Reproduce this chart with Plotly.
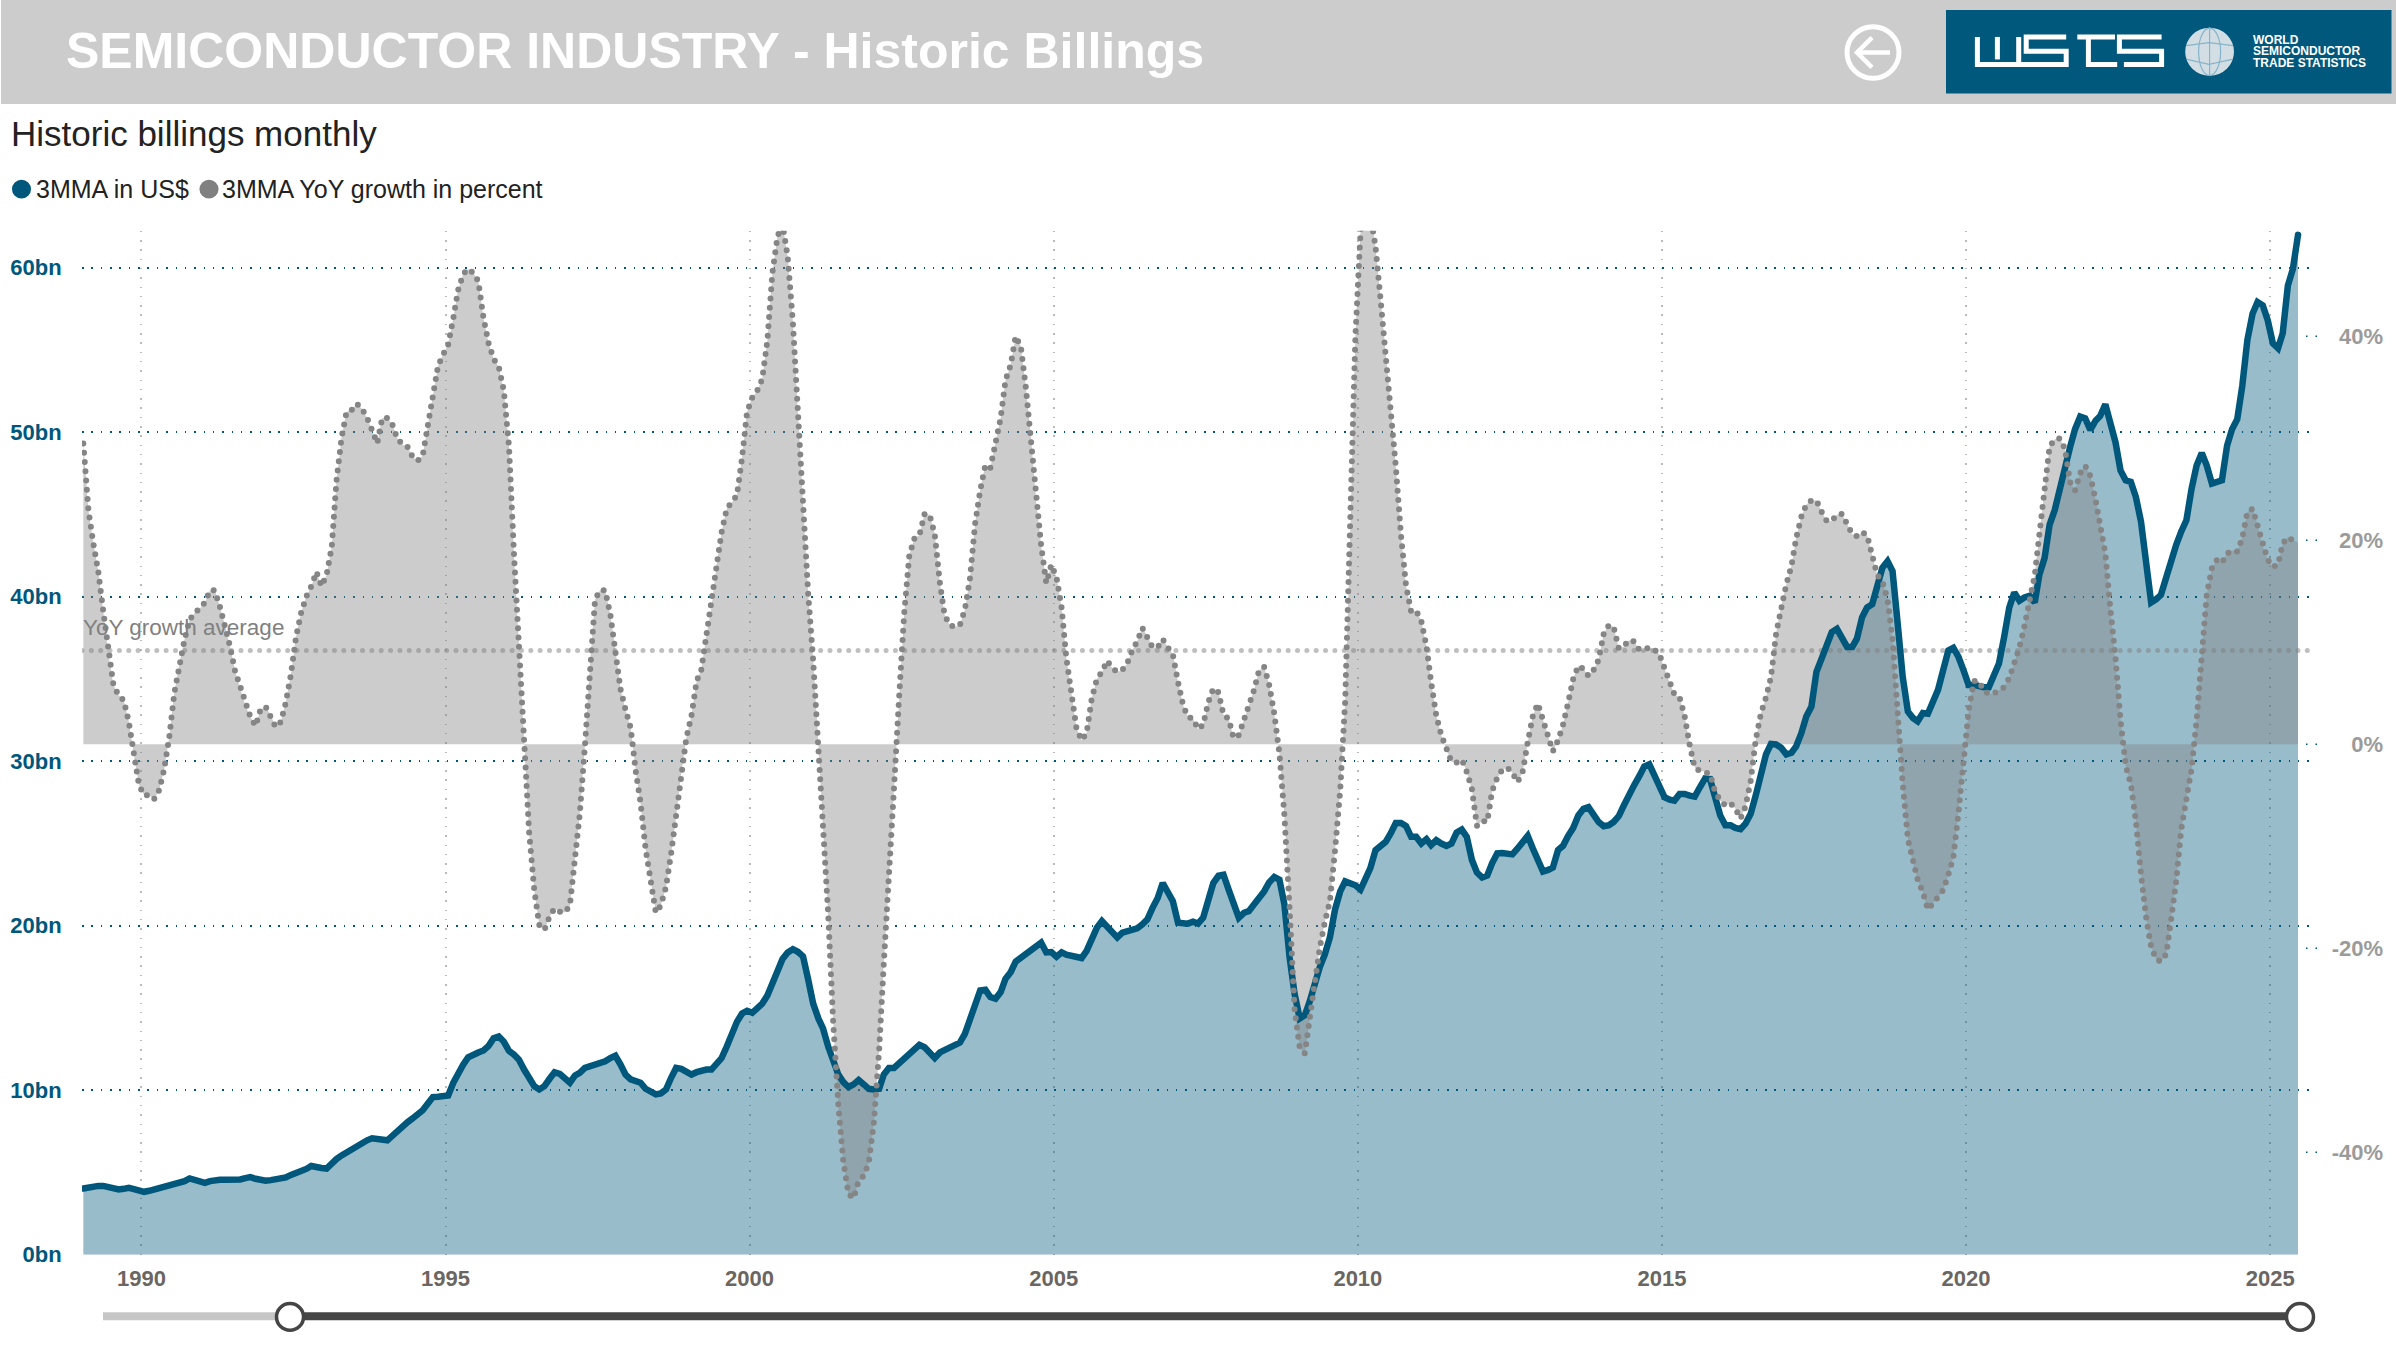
import plotly.graph_objects as go

W, H = 2396, 1350
PLOT_L, PLOT_R, PLOT_T, PLOT_B = 82, 2315, 233, 1267

start_year, start_month = 1989, 1

billings_bn = [
    4.03,4.09,4.19,4.19,4.19,4.11,4.01,3.97,4.01,4.07,3.99,3.89,
    3.83,3.89,3.97,4.05,4.13,4.21,4.25,4.33,4.48,4.64,4.54,4.44,
    4.37,4.48,4.56,4.56,4.56,4.54,4.52,4.58,4.66,4.72,4.62,4.56,
    4.5,4.54,4.6,4.62,4.7,4.86,4.96,5.08,5.22,5.4,5.38,5.28,
    5.24,5.6,5.82,6.04,6.24,6.42,6.6,6.8,6.96,7.08,7.06,6.96,
    6.96,7.24,7.53,7.81,8.05,8.29,8.49,8.79,9.19,9.59,9.61,9.61,
    9.69,10.46,11.06,11.56,12,12.2,12.3,12.42,12.7,13.16,13.27,12.96,
    12.4,12.16,11.86,11.26,10.66,10.25,10.05,10.25,10.7,11.1,11,10.7,
    10.46,10.9,11.06,11.36,11.46,11.5,11.62,11.76,11.96,12.1,11.56,10.96,
    10.66,10.52,10.46,10.09,9.89,9.75,9.81,10.05,10.76,11.36,11.3,11.12,
    10.96,11.1,11.2,11.26,11.26,11.56,11.96,12.66,13.46,14.16,14.67,14.83,
    14.71,14.97,15.27,15.77,16.58,17.18,17.98,18.38,18.58,18.42,18.14,16.78,
    15.27,14.37,13.77,12.66,11.66,10.96,10.5,10.2,10.36,10.62,10.36,10.09,
    10.05,10.09,10.96,11.36,11.36,11.66,11.96,12.26,12.5,12.76,12.62,12.32,
    11.96,12.3,12.42,12.62,12.7,12.9,13.43,14.31,15.27,16.07,16.11,15.67,
    15.57,15.97,16.78,17.18,17.82,18.08,18.28,18.52,18.78,18.98,18.38,18.4,
    18.12,18.38,18.24,18.16,18.04,18.04,18.48,19.29,19.89,20.29,19.99,19.65,
    19.29,19.59,19.65,19.79,19.85,20.09,20.39,21.09,21.69,22.6,22.09,21.49,
    20.19,20.19,20.13,20.25,20.13,20.49,21.49,22.6,23.04,23.1,22.2,21.29,
    20.49,20.79,20.89,21.29,21.63,22.09,22.64,22.96,22.8,21.29,18.08,15.87,
    14.37,14.57,15.37,16.58,17.48,18.28,19.29,20.99,22.09,22.7,22.6,22.46,
    22.2,22.9,23.5,24.6,24.8,25.1,25.61,26.25,26.25,26.07,25.41,25.41,
    25,25.27,24.9,25.2,25,24.86,25,25.67,25.85,25.41,24,23.24,
    22.94,23.06,23.8,24.4,24.42,24.34,24.34,24.7,25.07,25.47,24.7,23.9,
    23.3,23.4,23.54,24.6,24.86,25.47,25.95,26.71,27.11,27.21,26.71,26.31,
    26.05,26.11,26.31,26.67,27.31,28.01,28.52,29.08,29.68,29.82,29.12,28.52,
    27.81,27.67,27.61,28.01,28.01,27.91,27.85,28.42,28.96,28.92,27.61,26.71,
    26.11,26.11,25.95,25.87,26.21,26.81,27.91,29.22,30.42,31.05,31.02,30.82,
    30.42,30.52,30.9,31.7,32.73,33.33,35.44,36.24,37.15,37.85,38.05,37.55,
    36.95,36.95,37.45,38.75,39.35,39.55,40.76,41.76,42.16,41.56,38.35,35.14,
    33.03,32.63,32.43,32.93,32.89,33.53,34.34,35.54,36.74,36.9,36.34,35.54,
    34.64,34.64,34.54,34.5,34.5,35.24,35.94,37.55,39.35,40.26,39.76,39.96,
    40.06,39.66,41.36,42.36,44.37,45.27,46.58,47.98,49.09,50.19,50.95,50.85,
    50.15,50.7,50.99,51.7,50.59,49.39,47.68,47.08,46.98,46.08,44.57,41.96,
    39.66,39.86,40.12,41.16,42.26,43.17,43.97,44.67,46.58,47.98,48.74,47.98,
    46.88,46.98,47.08,49.19,50.19,50.79,52.8,55.61,57.21,57.92,57.72,56.81,
    55.41,55.11,56.01,58.92,59.92,62.0,
]

growth_pct = [
    29.5,22.9,19.8,16.9,13,8.7,5.8,4.8,4.3,2.2,-1,-4,
    -5,-5,-5.4,-4.5,-2.5,.7,5,7.9,10.3,12.2,12.9,13.3,
    13.9,15.1,15.1,13.5,11.7,9.6,7.2,5.6,3.8,2.7,1.8,3.4,
    3.7,2.8,1.7,2.2,4.1,6.9,10.5,12.9,14.5,15.5,16.9,15.5,
    16.6,19.4,25.8,30.1,32.6,32.8,33.4,32.9,32,30.8,29.5,32,
    32,31.3,30,29.4,29.2,28.2,27.8,28.3,31.2,33.9,37.1,38.2,
    39.2,41.8,44.5,46.1,46.6,46.2,45.4,41.8,39.3,37.8,37,34.7,
    29.3,18.4,9.8,.3,-8.6,-14.3,-17.7,-18.2,-16.9,-16.1,-16.4,-16.5,
    -15.8,-11.1,-6.9,-.2,7.7,14.2,15.1,15.1,12.7,9.3,5.4,3.4,
    1.6,-2.7,-5.7,-10.3,-13.4,-16.5,-15.8,-14,-10.7,-7.1,-2.8,.6,
    2.8,6.2,7.3,10.7,13.4,17.6,20.8,23.1,23.7,24.4,28.1,32.6,
    34,34.7,35.8,39.6,46.2,49.8,51,47.8,41.4,32.3,24,15,
    8.2,.2,-8.2,-16.6,-27.2,-35.4,-40.9,-44.1,-44.5,-42.8,-42.3,-41,
    -37,-30,-21.5,-13.5,-4.4,4.6,12.7,18.5,20.2,20.5,22.6,22.5,
    20.6,15.8,12.7,11.7,11.5,11.7,13.2,16.3,21.7,24.9,27.4,27.1,
    29.7,32,35.7,37.2,40.0,39.0,35,30.1,23.8,19.5,15.8,17.6,
    16.4,13.4,8.5,4.8,1.6,.4,1.1,4.5,6.4,7.1,8.2,7.5,
    7.1,7.3,7.9,9.2,10.1,11.4,10.6,9.5,9.5,10.3,9.5,8.8,
    6.1,3.8,2.7,2.5,1.5,1.9,4.1,5.5,5.1,2.9,2.5,.6,
    .9,2.4,3.7,5.3,7.2,7.6,5.9,3,-.9,-7,-16.1,-26,
    -29.8,-30.3,-27,-23.2,-20,-17.4,-15.4,-10.4,-4.5,4.3,21,39.9,
    50.2,54,52,48.8,43.7,38.1,33.4,27.2,20.5,15.6,13,13.1,
    12.1,9.6,6.1,2.8,.9,-.5,-1.7,-1.8,-1.5,-2.7,-4.4,-8,
    -7.5,-7.6,-4.6,-3.3,-2.5,-2.3,-2.8,-3.7,-2.7,.2,2.8,4,
    2.4,.9,-.7,.4,1.9,4.1,6.4,7.7,7.4,6.7,7.3,8.3,
    10.9,11.7,11.5,9.4,9.6,10.2,10.1,9.3,9.3,9.5,9.3,8.8,
    7.3,6,4.9,4.6,2.8,-.1,-2.3,-2.6,-2.7,-2.9,-4.7,-5.5,
    -6,-5.8,-6.3,-7.3,-6.1,-3.6,.4,3,4.6,6.6,10.9,13.5,
    15.7,17.5,20.2,22.3,23.5,23.9,23.9,22.8,21.9,21.9,22.5,22.6,
    21.6,20.6,20.4,20.8,20.5,18.4,16.6,16,14.2,10.3,2.8,-3.9,
    -9.3,-11.7,-13.3,-14.5,-16.2,-15.6,-15,-14.3,-12.8,-11.1,-6.7,-2,
    3.3,6.2,6.2,5.3,4.9,5,5.3,5.6,6.5,8,9.5,11.6,
    14.3,16.6,20.6,25.1,29.2,29.9,30,29,25.7,24.9,26.6,27.3,
    26.3,24,21.8,18.7,13.3,8.5,2.4,-2.1,-3.9,-7.5,-12.7,-16.9,
    -19.9,-21.1,-21.3,-20.6,-17.2,-13.3,-8.3,-5.2,-2.4,2.4,9.3,14.7,
    17.3,18.1,17.8,18.7,19,18.9,20.2,22.8,23.1,21.5,19.4,18.1,
    17.4,17.6,19.7,20.3,20,19.8,
]

growth_average = [9.2, 9.2]
x_range = ["1989-01-09", "2025-09-27"]
y_bn_range = [0, 62.25]
y_pct_range = [-50.05, 50.35]
bn_ticks = [0, 10, 20, 30, 40, 50, 60]
bn_labels = ["0bn", "10bn", "20bn", "30bn", "40bn", "50bn", "60bn"]
pct_ticks = [-40, -20, 0, 20, 40]
pct_labels = ["-40%", "-20%", "0%", "20%", "40%"]

BLUE = "#00577C"
GREY = "#808080"
months = [f"{start_year + (start_month - 1 + i) // 12}-{(start_month - 1 + i) % 12 + 1:02d}-17"
          for i in range(max(len(billings_bn), len(growth_pct)))]

def px(x): return x / W
def py(y): return 1 - y / H

fig = go.Figure()
FONT = "Liberation Sans, Arial, sans-serif"

fig.add_trace(go.Scatter(x=months, y=billings_bn, yaxis="y", mode="lines", line=dict(width=0),
                         fill="tozeroy", fillcolor="rgba(0,87,124,0.4)", hoverinfo="skip", name="area"))
fig.add_trace(go.Scatter(x=months, y=growth_pct, yaxis="y2", mode="lines", line=dict(width=0),
                         fill="tozeroy", fillcolor="rgba(128,128,128,0.4)", hoverinfo="skip", name="grey area"))
fig.add_trace(go.Scatter(x=x_range, y=growth_average, yaxis="y2", mode="lines",
                         line=dict(color="rgba(128,128,128,0.5)", width=5, dash="0px,9.35px"),
                         hoverinfo="skip", name="YoY growth average"))
fig.add_trace(go.Scatter(x=months, y=billings_bn, yaxis="y3", mode="lines",
                         line=dict(color=BLUE, width=6.5), name="3MMA in US$"))
fig.add_trace(go.Scatter(x=months, y=growth_pct, yaxis="y4", mode="lines",
                         line=dict(color="#858585", width=6, dash="0px,9.3px"), name="3MMA YoY growth in percent"))

shapes, annots = [], []

def rect(x0, y0, x1, y1, fill, line=None, lw=0):
    shapes.append(dict(type="rect", xref="paper", yref="paper", x0=px(x0), x1=px(x1), y0=py(y1), y1=py(y0),
                       fillcolor=fill, line=dict(color=line or fill, width=lw), layer="above"))

def circle(cx, cy, rx, ry, fill, line=None, lw=0):
    shapes.append(dict(type="circle", xref="paper", yref="paper", x0=px(cx - rx), x1=px(cx + rx),
                       y0=py(cy + ry), y1=py(cy - ry), fillcolor=fill,
                       line=dict(color=line or fill, width=lw), layer="above"))

def poly(points, color, lw, fill=None):
    path = "M " + " L ".join(f"{px(a):.5f},{py(b):.5f}" for a, b in points)
    shapes.append(dict(type="path", xref="paper", yref="paper", path=path, fillcolor=fill or "rgba(0,0,0,0)",
                       line=dict(color=color, width=lw), layer="above"))

def text(s, x, y, size, color, bold=False, anchor="left"):
    annots.append(dict(text=f"<b>{s}</b>" if bold else s, xref="paper", yref="paper", x=px(x), y=py(y),
                       xanchor=anchor, yanchor="middle", showarrow=False,
                       font=dict(family=FONT, size=size, color=color), borderpad=0, borderwidth=0))

rect(1, 0, W, 105, "#CCCCCC")
text("SEMICONDUCTOR INDUSTRY - Historic Billings", 66, 52, 50, "white", bold=True)
text("Historic billings monthly", 11, 135, 35, "#222222")
circle(1873, 53, 26, 26, "rgba(0,0,0,0)", "white", 5)
poly([(1857, 53), (1890, 53)], "white", 4.5)
poly([(1872, 38), (1857, 53), (1872, 68)], "white", 4.5)
rect(1946, 10, 2391.5, 94.5, "#00587C")
for stroke in [
    [(1977.4, 37.3), (1977.4, 65), (2018.7, 65), (2018.7, 37.3)],
    [(1997.4, 37.3), (1997.4, 60)],
    [(2066.2, 37.3), (2026.2, 37.3), (2026.2, 51.7), (2066.2, 51.7), (2066.2, 65), (2019.6, 65)],
    [(2077.3, 37.3), (2115, 37.3)],
    [(2088.4, 37.3), (2088.4, 65), (2117.2, 65)],
    [(2161.6, 37.3), (2119.4, 37.3), (2119.4, 51.7), (2161.6, 51.7), (2161.6, 65), (2123.9, 65)],
]:
    poly(stroke, "white", 5)
circle(2209.6, 52.3, 24.4, 24.3, "#D3DEE4")
circle(2209.6, 52.3, 11, 24, "rgba(0,0,0,0)", "#86B4CB", 1.2)
poly([(2186, 46), (2209, 43), (2233, 46)], "#86B4CB", 1.2)
poly([(2187, 60), (2209, 65), (2232, 60)], "#86B4CB", 1.2)
poly([(2209.6, 28), (2209.6, 76)], "#86B4CB", 1.2)
for i, s in enumerate(["WORLD", "SEMICONDUCTOR", "TRADE STATISTICS"]):
    text(s, 2252.6, 40 + i * 11.8, 12, "white", bold=True)
circle(21.5, 191, 9.5, 9.5, BLUE)
text("3MMA in US$", 36, 191, 25, "#222222")
circle(209, 191, 9.5, 9.5, GREY)
text("3MMA YoY growth in percent", 222, 191, 25, "#222222")
text("YoY growth average", 83, 634, 22.5, "#808080")
for v in pct_ticks:
    shapes.append(dict(type="line", xref="paper", yref="y2", x0=px(2306), x1=px(2320), y0=v, y1=v,
                       line=dict(color=BLUE, width=1.5, dash="1.5px,8px"), layer="below"))
rect(103, 1325, 292, 1333, "#C6C6C6")
rect(290, 1325, 2300, 1333, "#464646")
circle(290, 1329.7, 13.5, 13.5, "white", "#454545", 3.5)
circle(2300, 1329.7, 13.5, 13.5, "white", "#454545", 3.5)

x0d, x1d = px(PLOT_L), px(PLOT_R)
y0d, y1d = py(PLOT_B), py(PLOT_T)

fig.update_layout(
    width=W, height=H, autosize=False,
    margin=dict(l=0, r=0, t=0, b=0),
    paper_bgcolor="white", plot_bgcolor="rgba(0,0,0,0)",
    showlegend=False, hovermode=False,
    font=dict(family=FONT),
    shapes=shapes, annotations=annots,
    xaxis=dict(domain=[x0d, x1d], type="date", range=x_range, tick0="1990-01-01", dtick="M60",
               tickformat="%Y", showgrid=True, gridcolor="#BBBBBB", griddash="1.5px,7.8px", gridwidth=2,
               zeroline=False, showline=False, ticks="outside", ticklen=4, tickcolor="rgba(0,0,0,0)",
               tickfont=dict(family=FONT, size=22, color="#6B6661", weight="bold")),
    yaxis=dict(domain=[y0d, y1d], range=y_bn_range, tickmode="array", tickvals=bn_ticks, ticktext=bn_labels,
               showgrid=True, gridcolor=BLUE, griddash="1.5px,7.85px", gridwidth=1.5, zeroline=False,
               showline=False, ticks="outside", ticklen=15, tickcolor="rgba(0,0,0,0)",
               tickfont=dict(family=FONT, size=22, color=BLUE, weight="bold")),
    yaxis2=dict(domain=[y0d, y1d], range=y_pct_range, overlaying="y", side="right", anchor="free",
                position=px(2386), tickmode="array", tickvals=pct_ticks, ticktext=pct_labels,
                ticklabelposition="inside", showgrid=False, zeroline=False, showline=False, ticks="",
                tickfont=dict(family=FONT, size=22, color="#9B9B9B", weight="bold")),
    yaxis3=dict(domain=[y0d, y1d], range=y_bn_range, overlaying="y", visible=False),
    yaxis4=dict(domain=[y0d, y1d], range=y_pct_range, overlaying="y", visible=False),
)

fig.write_html("out.html", config={"displayModeBar": False}, post_script="""
document.documentElement.style.margin='0';
document.documentElement.style.overflow='hidden';
document.body.style.margin='0';
document.body.style.overflow='hidden';
document.querySelectorAll('.scatterlayer .js-line').forEach(function(p){p.style.strokeLinecap='round';});
""")
